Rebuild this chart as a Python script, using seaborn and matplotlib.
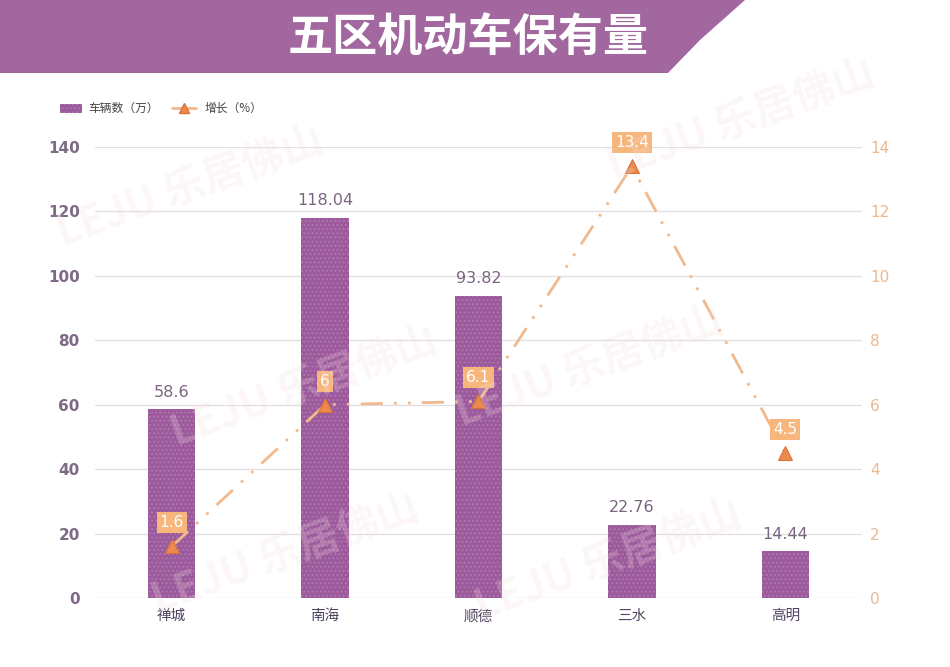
import matplotlib
matplotlib.use("Agg")
import matplotlib.pyplot as plt
import seaborn as sns
import pandas as pd
from matplotlib.patches import Polygon, Rectangle
from matplotlib.lines import Line2D

sns.set_theme(style="white")
plt.rcParams['font.family'] = ['Noto Sans CJK SC', 'DejaVu Sans']
plt.rcParams['hatch.color'] = '#c9a3cb'
plt.rcParams['hatch.linewidth'] = 0.8

categories = ["禅城", "南海", "顺德", "三水", "高明"]
vehicles = [58.6, 118.04, 93.82, 22.76, 14.44]
growth = [1.6, 6, 6.1, 13.4, 4.5]
growth_labels = ["1.6", "6", "6.1", "13.4", "4.5"]
vehicle_labels = ["58.6", "118.04", "93.82", "22.76", "14.44"]
left_ticks = [0, 20, 40, 60, 80, 100, 120, 140]
right_ticks = [0, 2, 4, 6, 8, 10, 12, 14]
title = "五区机动车保有量"

df = pd.DataFrame({"区": categories, "车辆数": vehicles, "增长": growth})

fig = plt.figure(figsize=(9.5, 6.67), dpi=100)
fig.patch.set_facecolor("white")

# banner
banner = Polygon([(0, 1), (0, 1 - 73/667), (668/950, 1 - 73/667),
                  (700/950, 1 - 40/667), (745/950, 1)],
                 closed=True, transform=fig.transFigure,
                 facecolor="#a2679f", edgecolor="none", zorder=0)
fig.patches.append(banner)
fig.text(468/950, 1 - 38/667, title, color="white", fontsize=32.5,
         fontweight="bold", ha="center", va="center")

# faint watermark
for (x, y) in [(0.2, 0.72), (0.32, 0.42), (0.62, 0.45), (0.3, 0.17), (0.78, 0.82), (0.64, 0.16)]:
    fig.text(x, y, "LEJU 乐居佛山", fontsize=30, color="#f5dede", alpha=0.25,
             rotation=20, ha="center", va="center", fontweight="bold", zorder=0)

ax = fig.add_axes([95/950, 1 - 598/667, (862 - 95)/950, (598 - 147)/667])
ax.set_facecolor("none")

sns.barplot(data=df, x="区", y="车辆数", ax=ax, color="#9c5a9c", width=0.31,
            saturation=1, zorder=3)
for p in ax.patches:
    p.set_hatch("....")
    p.set_edgecolor("#b07ab0")
    p.set_linewidth(0)

ax.set_ylim(0, 140)
ax.set_xlim(-0.5, 4.5)
ax.set_yticks(left_ticks)
ax.set_yticklabels([str(t) for t in left_ticks], color="#7d6a85", fontsize=11,
                   family="DejaVu Sans", fontweight="semibold")
ax.yaxis.grid(True, color="#e2dde2", linewidth=0.9, zorder=0)
ax.set_axisbelow(True)
ax.set_xlabel("")
ax.set_ylabel("")
ax.tick_params(axis="x", colors="#4f4260", labelsize=10.5, length=0, pad=8)
ax.tick_params(axis="y", length=0, pad=11)
for s in ax.spines.values():
    s.set_visible(False)

for i, (v, lab) in enumerate(zip(vehicles, vehicle_labels)):
    ax.text(i, v + 3, lab, ha="center", va="bottom", color="#7a6580", fontsize=11.5,
            family="DejaVu Sans")

ax2 = ax.twinx()
sns.lineplot(x=list(range(len(categories))), y=growth, ax=ax2, color="#f2b98c",
             linewidth=2, marker="^", markersize=10, markerfacecolor="#ec8a4e",
             markeredgecolor="#d9703a", dashes=[(8, 4, 1, 4, 1, 4)], zorder=5,
             style=[0]*5, legend=False)
ax2.set_ylim(0, 14)
ax2.set_yticks(right_ticks)
ax2.set_yticklabels([str(t) for t in right_ticks], color="#e9b992", fontsize=11,
                    family="DejaVu Sans")
ax2.tick_params(axis="y", length=0, pad=6)
ax2.set_ylabel("")
for s in ax2.spines.values():
    s.set_visible(False)

for i, (g, lab) in enumerate(zip(growth, growth_labels)):
    ax2.annotate(lab, (i, g), xytext=(0, 17), textcoords="offset points",
                 ha="center", va="center", color="white", fontsize=11,
                 family="DejaVu Sans",
                 bbox=dict(boxstyle="square,pad=0.2", facecolor="#f7b67c",
                           edgecolor="none"), zorder=6)

# legend
fig.patches.append(Rectangle((60/950, 1 - 113/667), 22/950, 9/667,
                             transform=fig.transFigure, facecolor="#9c5a9c",
                             hatch="....", edgecolor="#b07ab0", linewidth=0))
fig.text(88/950, 1 - 108/667, "车辆数（万）", fontsize=8.5, color="#444444",
         va="center", ha="left")
fig.lines.append(Line2D([172/950, 196/950], [1 - 108/667, 1 - 108/667],
                        transform=fig.transFigure, color="#f2b98c", linewidth=2))
fig.lines.append(Line2D([184/950], [1 - 108/667], transform=fig.transFigure,
                        marker="^", markersize=7, markerfacecolor="#ec8a4e",
                        markeredgecolor="#d9703a", linestyle="none"))
fig.text(205/950, 1 - 108/667, "增长（%）", fontsize=8.5, color="#444444",
         va="center", ha="left")

fig.savefig("out.png", dpi=100)
